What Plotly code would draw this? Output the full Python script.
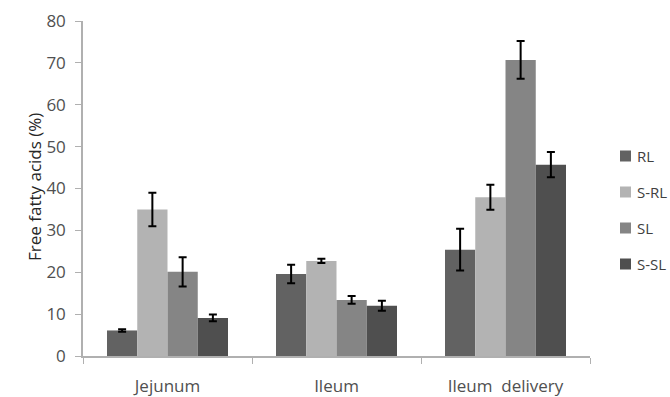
import plotly.graph_objects as go

categories = ["Jejunum", "Ileum", "Ileum  delivery"]
series_names = ["RL", "S-RL", "SL", "S-SL"]
series_values = {
    "RL":   [6.1, 19.6, 25.4],
    "S-RL": [35.0, 22.7, 37.9],
    "SL":   [20.1, 13.4, 70.7],
    "S-SL": [9.1, 12.0, 45.7],
}
series_errors = {
    "RL":   [0.3, 2.2, 5.0],
    "S-RL": [4.0, 0.5, 3.0],
    "SL":   [3.5, 0.9, 4.5],
    "S-SL": [0.8, 1.2, 3.0],
}
colors = {"RL": "#626262", "S-RL": "#b3b3b3", "SL": "#858585", "S-SL": "#4f4f4f"}
y_ticks = [0, 10, 20, 30, 40, 50, 60, 70, 80]

fig = go.Figure()
for name in series_names:
    fig.add_trace(go.Bar(
        name=name, x=categories, y=series_values[name],
        marker=dict(color=colors[name], line=dict(width=0)),
        error_y=dict(type="data", array=series_errors[name], color="black",
                     thickness=2, width=4),
        showlegend=False,
    ))

font = "Open Sans, Liberation Sans, sans-serif"
W, H = 670, 397
L, R, T, B = 83, 80, 21, 41
fig.update_layout(
    width=W, height=H,
    margin=dict(l=L, r=R, t=T, b=B, autoexpand=False),
    paper_bgcolor="white", plot_bgcolor="white",
    barmode="group", bargap=0.284, bargroupgap=0,
    font=dict(family=font, size=17, color="#595959"),
    xaxis=dict(showline=True, linecolor="#b0b0b0", linewidth=1.5,
               ticks="outside", tickcolor="#b0b0b0", ticklen=6,
               tickson="boundaries", showgrid=False, zeroline=False,
               ticklabelstandoff=14,
               tickfont=dict(size=17, color="#505050")),
    yaxis=dict(range=[0, 80], tickvals=y_ticks, showline=True,
               linecolor="#b0b0b0", linewidth=1.5, ticks="outside",
               tickcolor="#b0b0b0", ticklen=6, showgrid=False,
               zeroline=False, ticklabelstandoff=6,
               tickfont=dict(size=17, color="#505050")),
)
pw = W - L - R
ph = H - T - B

def px_x(x):
    return (x - L) / pw

def px_y(y):
    return (H - B - y) / ph

fig.add_annotation(text="Free fatty acids (%)", x=px_x(20.5), y=px_y(187),
                   xref="paper", yref="paper", showarrow=False, textangle=-90,
                   font=dict(size=17, color="#262626"))

# manual legend (Excel style: small square + label)
leg_x0, leg_sq, leg_y0, leg_dy = 620, 11, 156, 36
for i, name in enumerate(series_names):
    cy = leg_y0 + i * leg_dy
    fig.add_shape(type="rect", xref="paper", yref="paper",
                  x0=px_x(leg_x0), x1=px_x(leg_x0 + leg_sq),
                  y0=px_y(cy + leg_sq / 2), y1=px_y(cy - leg_sq / 2),
                  fillcolor=colors[name], line=dict(width=0))
    fig.add_annotation(text=name, x=px_x(leg_x0 + leg_sq + 4), y=px_y(cy),
                       xref="paper", yref="paper", xanchor="left",
                       yanchor="middle", showarrow=False,
                       font=dict(size=15, color="#404040"))

fig.write_html("out.html", config={"displayModeBar": False},
               post_script="document.body.style.margin='0px';document.body.style.overflow='hidden';")
